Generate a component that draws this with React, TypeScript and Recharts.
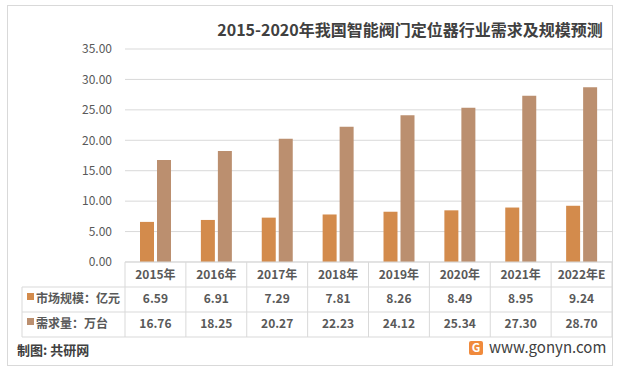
import React from 'react';
import { BarChart, Bar, XAxis, YAxis, CartesianGrid } from 'recharts';

const categories = ['2015年', '2016年', '2017年', '2018年', '2019年', '2020年', '2021年', '2022年E'];
const marketSize = [6.59, 6.91, 7.29, 7.81, 8.26, 8.49, 8.95, 9.24];
const demand = [16.76, 18.25, 20.27, 22.23, 24.12, 25.34, 27.3, 28.7];
const yTicks = [0, 5, 10, 15, 20, 25, 30, 35];
const seriesNames = ['市场规模：亿元', '需求量：万台'];
const title = '2015-2020年我国智能阀门定位器行业需求及规模预测';

const data = categories.map((c, i) => ({ name: c, market: marketSize[i], demand: demand[i] }));

const W = 621;
const H = 372;
const PLOT_LEFT = 125;
const PLOT_RIGHT = 612;
const PLOT_TOP = 49;
const PLOT_BOTTOM = 262;
const BOTTOM_MARGIN = 35;
const BAND = (PLOT_RIGHT - PLOT_LEFT) / categories.length;
const ROW1 = 287;
const ROW2 = 312;
const ROW3 = 337;
const TABLE_LEFT = 22;
const FONT = '"Noto Sans CJK SC", "Noto Sans", sans-serif';
const GRID = '#d9d9d9';
const TEXT = '#595959';
const ORANGE = '#D38B4C';
const BROWN = '#BB8F6F';

const TableTick = (props: any) => {
  const { x, payload } = props;
  const i = categories.indexOf(payload.value);
  const right = x + BAND / 2;
  return (
    <g>
      <line x1={right} y1={PLOT_BOTTOM} x2={right} y2={ROW3} stroke={GRID} strokeWidth={1} />
      <text x={x} y={276} textAnchor="middle" dominantBaseline="middle" fontSize={12} fontWeight="bold" fill={TEXT} fontFamily={FONT}>
        {payload.value}
      </text>
      <text x={x} y={300} textAnchor="middle" dominantBaseline="middle" fontSize={12} fontWeight="bold" fill={TEXT} fontFamily={FONT}>
        {marketSize[i].toFixed(2)}
      </text>
      <text x={x} y={325} textAnchor="middle" dominantBaseline="middle" fontSize={12} fontWeight="bold" fill={TEXT} fontFamily={FONT}>
        {demand[i].toFixed(2)}
      </text>
    </g>
  );
};

export default function App() {
  return (
    <div style={{ position: 'absolute', left: 0, top: 0, width: W, height: H, background: '#fff', fontFamily: FONT }}>
      <svg width={W} height={H} style={{ position: 'absolute', left: 0, top: 0 }}>
        <rect x={7.5} y={5.5} width={605} height={360} fill="#fff" stroke={GRID} strokeWidth={1} />
      </svg>
      <div style={{ position: 'absolute', left: 0, top: 0 }}>
        <BarChart
          width={W}
          height={H}
          data={data}
          margin={{ top: PLOT_TOP, right: W - PLOT_RIGHT, bottom: BOTTOM_MARGIN, left: 0 }}
          barSize={14}
          barGap={3}
        >
          <CartesianGrid vertical={false} stroke={GRID} strokeWidth={1} />
          <YAxis
            width={PLOT_LEFT}
            domain={[0, 35]}
            ticks={yTicks}
            interval={0}
            axisLine={false}
            tickLine={false}
            tickSize={0}
            tickMargin={13}
            tickFormatter={(v: number) => v.toFixed(2)}
            tick={{ fontSize: 12, fill: TEXT, fontFamily: FONT }}
          />
          <XAxis
            dataKey="name"
            height={H - BOTTOM_MARGIN - PLOT_BOTTOM}
            interval={0}
            axisLine={{ stroke: GRID }}
            tickLine={false}
            tick={<TableTick />}
          />
          <Bar dataKey="market" fill={ORANGE} isAnimationActive={false} />
          <Bar dataKey="demand" fill={BROWN} isAnimationActive={false} />
        </BarChart>
      </div>
      <svg width={W} height={H} style={{ position: 'absolute', left: 0, top: 0, pointerEvents: 'none' }}>
        <text x={410} y={32} textAnchor="middle" dominantBaseline="middle" fontSize={16} fontWeight="bold" fill="#404040" fontFamily={FONT}>
          {title}
        </text>
        <line x1={PLOT_LEFT} y1={PLOT_BOTTOM} x2={PLOT_LEFT} y2={ROW3} stroke={GRID} />
        <line x1={TABLE_LEFT} y1={ROW1} x2={PLOT_RIGHT} y2={ROW1} stroke={GRID} />
        <line x1={TABLE_LEFT} y1={ROW2} x2={PLOT_RIGHT} y2={ROW2} stroke={GRID} />
        <line x1={TABLE_LEFT} y1={ROW3} x2={PLOT_RIGHT} y2={ROW3} stroke={GRID} />
        <line x1={TABLE_LEFT} y1={ROW1} x2={TABLE_LEFT} y2={ROW3} stroke={GRID} />
        <rect x={27} y={293} width={7} height={7} fill={ORANGE} />
        <text x={36} y={300} dominantBaseline="middle" fontSize={12} fontWeight="bold" fill={TEXT} fontFamily={FONT}>
          {seriesNames[0]}
        </text>
        <rect x={27} y={318} width={7} height={7} fill={BROWN} />
        <text x={36} y={325} dominantBaseline="middle" fontSize={12} fontWeight="bold" fill={TEXT} fontFamily={FONT}>
          {seriesNames[1]}
        </text>
        <text x={17} y={351} dominantBaseline="middle" fontSize={13} fontWeight="bold" fill="#404040" fontFamily={FONT}>
          制图: 共研网
        </text>
        <rect x={469} y={341} width={14} height={14} rx={2} fill="#F08A3C" />
        <text x={476} y={349} textAnchor="middle" dominantBaseline="middle" fontSize={12} fontWeight="bold" fill="#fff" fontFamily={FONT}>
          G
        </text>
        <text x={489} y={349} dominantBaseline="middle" fontSize={15} fill="#404040" fontFamily={FONT}>
          www.gonyn.com
        </text>
      </svg>
    </div>
  );
}
